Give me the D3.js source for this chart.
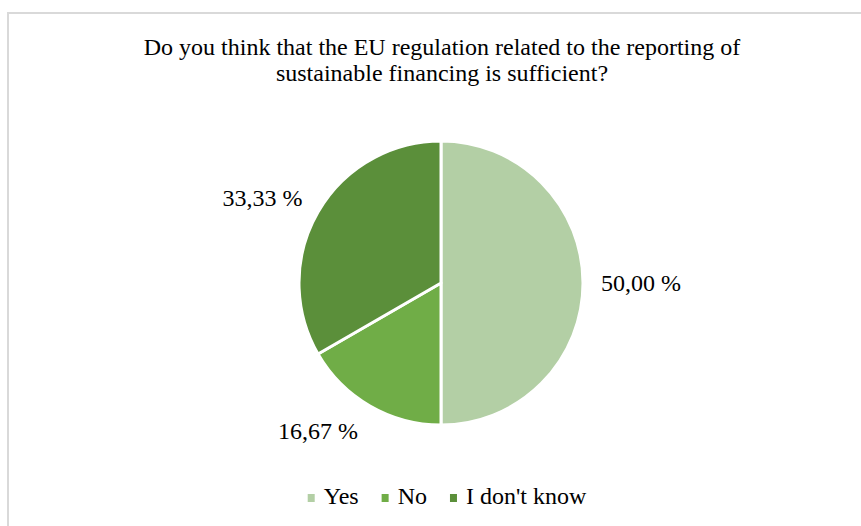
<!DOCTYPE html>
<html>
<head>
<meta charset="utf-8">
<script src="https://cdn.jsdelivr.net/npm/d3@7"></script>
</head>
<body style="margin:0">
<svg id="chart" width="861" height="526"></svg>
<script>
// Survey answers and their shares (%)
const categories = ["Yes", "No", "I don't know"];
const shares = [50.00, 16.67, 33.33];
const colors = ["#b3cfa5", "#70ad47", "#5b8f3a"];
const titleLines = [
  "Do you think that the EU regulation related to the reporting of",
  "sustainable financing is sufficient?"
];

const FONT = "Liberation Serif";
const svg = d3.select("#chart");

// Chart frame
svg.append("rect")
  .attr("x", 8).attr("y", 13)
  .attr("width", 900).attr("height", 560)
  .attr("fill", "#fff")
  .attr("stroke", "#d9d9d9")
  .attr("stroke-width", 2);

// Title
titleLines.forEach((line, i) => {
  svg.append("text")
    .style("font-family", FONT)
    .attr("text-anchor", "middle")
    .attr("font-size", 24)
    .attr("fill", "#000")
    .attr("x", 442)
    .attr("y", 55 + i * 26)
    .text(line);
});

// Pie
const cx = 441, cy = 283, r = 142;
const pie = d3.pie().sort(null).value(d => d.value);
const arcs = pie(categories.map((c, i) => ({ name: c, value: shares[i] })));
const arc = d3.arc().innerRadius(0).outerRadius(r);
const color = d3.scaleOrdinal().domain(categories).range(colors);

const g = svg.append("g").attr("transform", `translate(${cx},${cy})`);
g.selectAll("path")
  .data(arcs)
  .join("path")
  .attr("d", arc)
  .attr("fill", d => color(d.data.name))
  .attr("stroke", "#fff")
  .attr("stroke-width", 3)
  .attr("stroke-linejoin", "round");

// Data labels placed just outside each slice
const fmt = v => v.toFixed(2).replace(".", ",") + " %";
const labelR = r + 18;
arcs.forEach(d => {
  const a = (d.startAngle + d.endAngle) / 2;
  const dx = Math.sin(a), dy = -Math.cos(a);
  g.append("text")
    .style("font-family", FONT)
    .attr("font-size", 24)
    .attr("fill", "#000")
    .attr("x", dx * labelR + (dx < 0 && dy > 0 ? -3 : 0))
    .attr("y", dy * labelR + dy * 11 + 8)
    .attr("text-anchor", dx >= 0 ? "start" : "end")
    .text(fmt(d.data.value));
});

// Legend
const legend = svg.append("g");
let xPos = 0;
const gap = 23;
categories.forEach(c => {
  const item = legend.append("g").attr("transform", `translate(${xPos},0)`);
  item.append("rect")
    .attr("width", 7).attr("height", 8)
    .attr("y", -10)
    .attr("fill", color(c));
  const t = item.append("text")
    .style("font-family", FONT)
    .attr("font-size", 24)
    .attr("fill", "#000")
    .attr("x", 16)
    .attr("y", 0)
    .text(c);
  xPos += 16 + t.node().getComputedTextLength() + gap;
});
const total = xPos - gap;
legend.attr("transform", `translate(${447 - total / 2},504)`);
</script>
</body>
</html>
